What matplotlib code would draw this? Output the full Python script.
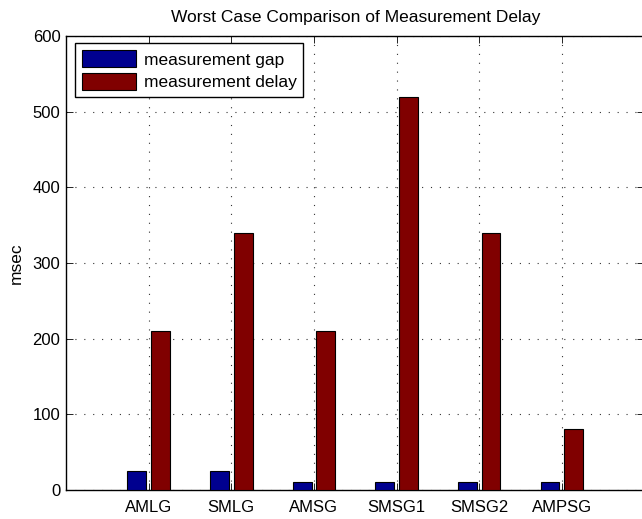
import matplotlib
matplotlib.use("Agg")
import matplotlib.pyplot as plt
import numpy as np

categories = ["AMLG", "SMLG", "AMSG", "SMSG1", "SMSG2", "AMPSG"]
gap_values = [25, 25, 10, 10, 10, 10]
delay_values = [210, 340, 210, 520, 340, 80]
series_labels = ["measurement gap", "measurement delay"]
yticks = [0, 100, 200, 300, 400, 500, 600]

plt.rcParams['font.family'] = ['Liberation Sans', 'DejaVu Sans']

W, H = 642, 519
fig = plt.figure(figsize=(W / 100, H / 100), dpi=100)
left, right, top, bottom = 66, 644.5, 36, 490
ax = fig.add_axes([left / W, (H - bottom) / H, (right - left) / W, (bottom - top) / H])

x = np.arange(1, len(categories) + 1)
off = 1 / 7
bw = 0.2286
ax.bar(x - off, gap_values, width=bw, color='#00008F', edgecolor='black', linewidth=0.8,
       label=series_labels[0], zorder=3)
ax.bar(x + off, delay_values, width=bw, color='#800000', edgecolor='black', linewidth=0.8,
       label=series_labels[1], zorder=3)

ax.set_xlim(0, 7)
ax.set_ylim(0, 600)
ax.set_xticks(x)
ax.set_xticklabels(categories)
ax.set_yticks(yticks)
ax.tick_params(direction='in', length=5, width=0.6, top=True, right=True,
               labelsize=12, color='black')
ax.tick_params(axis='x', pad=7)
ax.tick_params(axis='y', pad=4)
for s in ax.spines.values():
    s.set_linewidth(1.0)
    s.set_color('black')

ax.grid(True, color='0.2', linestyle=(0, (1, 7)), linewidth=0.8, zorder=0)
ax.set_axisbelow(True)

ax.set_title("Worst Case Comparison of Measurement Delay", fontsize=12.5, pad=10)
ax.set_ylabel("msec", fontsize=12.5, labelpad=6)

leg = ax.legend(loc='upper left', bbox_to_anchor=(75 / W, 1 - 43.3 / H),
                bbox_transform=fig.transFigure, borderaxespad=0, fancybox=False,
                framealpha=1, edgecolor='black', fontsize=12.5, handlelength=3.1,
                handleheight=1.15, handletextpad=0.45, labelspacing=0.3,
                borderpad=0.4)
leg.get_frame().set_linewidth(1.0)

fig.savefig("out.png", dpi=100)
